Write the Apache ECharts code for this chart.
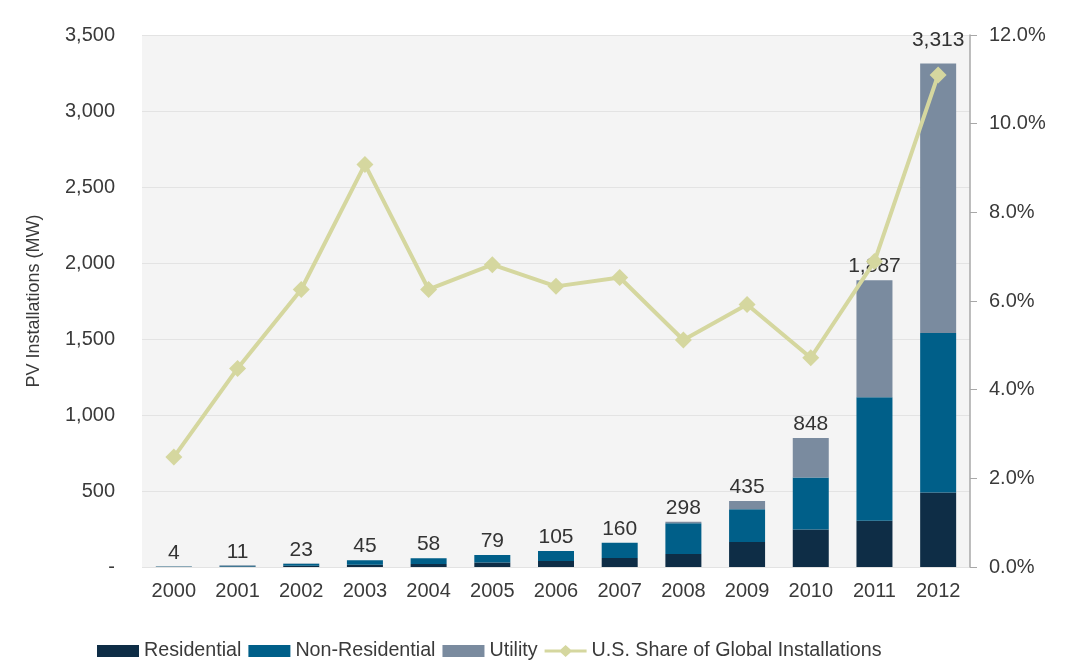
<!DOCTYPE html>
<html>
<head>
<meta charset="utf-8">
<script src="https://cdn.jsdelivr.net/npm/echarts@6/dist/echarts.min.js"></script>
<style>
html,body{margin:0;padding:0;background:#fff;}
#chart{width:1074px;height:671px;}
</style>
</head>
<body>
<div id="chart"></div>
<script>
const years = ['2000','2001','2002','2003','2004','2005','2006','2007','2008','2009','2010','2011','2012'];
const residential    = [1, 4, 8, 15, 20, 30, 40, 60, 85, 165, 246, 304, 490];
const nonResidential = [2, 5, 13, 30, 38, 49, 65, 100, 203, 215, 343, 813, 1050];
const utility        = [1, 2, 2, 0, 0, 0, 0, 0, 10, 55, 259, 770, 1773];
const totals         = [4, 11, 23, 45, 58, 79, 105, 160, 298, 435, 848, 1887, 3313];
const usShare        = [2.48, 4.48, 6.26, 9.08, 6.26, 6.82, 6.33, 6.53, 5.12, 5.92, 4.72, 6.89, 11.1];
const leftTicks = {min: 0, max: 3500, interval: 500};
const rightTicks = {min: 0, max: 12, interval: 2};

const FONT = 'Liberation Sans';
const TXT = '#3a3a3a';
const chart = echarts.init(document.getElementById('chart'));

const utilData = utility.map((v, i) => {
  const o = {value: v};
  if (i === 12) o.label = {offset: [0, -10]};
  return o;
});

chart.setOption({
  animation: false,
  textStyle: {fontFamily: FONT},
  grid: {left: 142, right: 104, top: 35, bottom: 104, show: true, backgroundColor: '#f4f4f4', borderWidth: 0},
  legend: {
    left: 92, top: 636, icon: 'rect',
    itemWidth: 42, itemHeight: 12, itemGap: 7,
    textStyle: {fontFamily: FONT, fontSize: 19.7, color: TXT},
    data: ['Residential', 'Non-Residential', 'Utility',
      {name: 'U.S. Share of Global Installations', icon: 'path://M0,4.6L16,4.6L21,0L26,4.6L42,4.6L42,7.4L26,7.4L21,12L16,7.4L0,7.4Z'}]
  },
  xAxis: {
    type: 'category', data: years,
    axisLine: {show: false}, axisTick: {show: false},
    axisLabel: {fontSize: 20, color: TXT, margin: 14, fontFamily: FONT}
  },
  yAxis: [{
    type: 'value', min: leftTicks.min, max: leftTicks.max, interval: leftTicks.interval,
    name: 'PV Installations (MW)', nameLocation: 'middle', nameGap: 99, nameRotate: 90,
    nameTextStyle: {fontSize: 18, color: TXT, fontFamily: FONT},
    axisLine: {show: false}, axisTick: {show: false},
    axisLabel: {fontSize: 20, color: TXT, margin: 27, fontFamily: FONT,
      formatter: v => v === 0 ? '-' : v.toLocaleString('en-US')},
    splitLine: {lineStyle: {color: '#e3e3e3', width: 1}}
  }, {
    type: 'value', min: rightTicks.min, max: rightTicks.max, interval: rightTicks.interval,
    position: 'right',
    axisLine: {show: true, lineStyle: {color: '#a8a8a8', width: 1.5}},
    axisTick: {show: true, inside: false, length: 7, lineStyle: {color: '#a8a8a8'}},
    axisLabel: {fontSize: 20, color: TXT, margin: 19, fontFamily: FONT, formatter: v => v.toFixed(1) + '%'},
    splitLine: {show: false}
  }],
  series: [{
    name: 'Residential', type: 'bar', stack: 'pv', data: residential, barWidth: 36,
    itemStyle: {color: '#0e2d46'}
  }, {
    name: 'Non-Residential', type: 'bar', stack: 'pv', data: nonResidential, barWidth: 36,
    itemStyle: {color: '#005f89'}
  }, {
    name: 'Utility', type: 'bar', stack: 'pv', data: utilData, barWidth: 36,
    itemStyle: {color: '#7a8b9f'},
    label: {show: true, position: 'top', distance: 3, fontSize: 21, color: '#333', fontFamily: FONT,
      formatter: p => totals[p.dataIndex].toLocaleString('en-US')}
  }, {
    name: 'U.S. Share of Global Installations', type: 'line', yAxisIndex: 1, data: usShare,
    symbol: 'diamond', symbolSize: 17, z: 5,
    lineStyle: {color: '#d5d79f', width: 4},
    itemStyle: {color: '#d5d79f'}
  }]
});
</script>
</body>
</html>
